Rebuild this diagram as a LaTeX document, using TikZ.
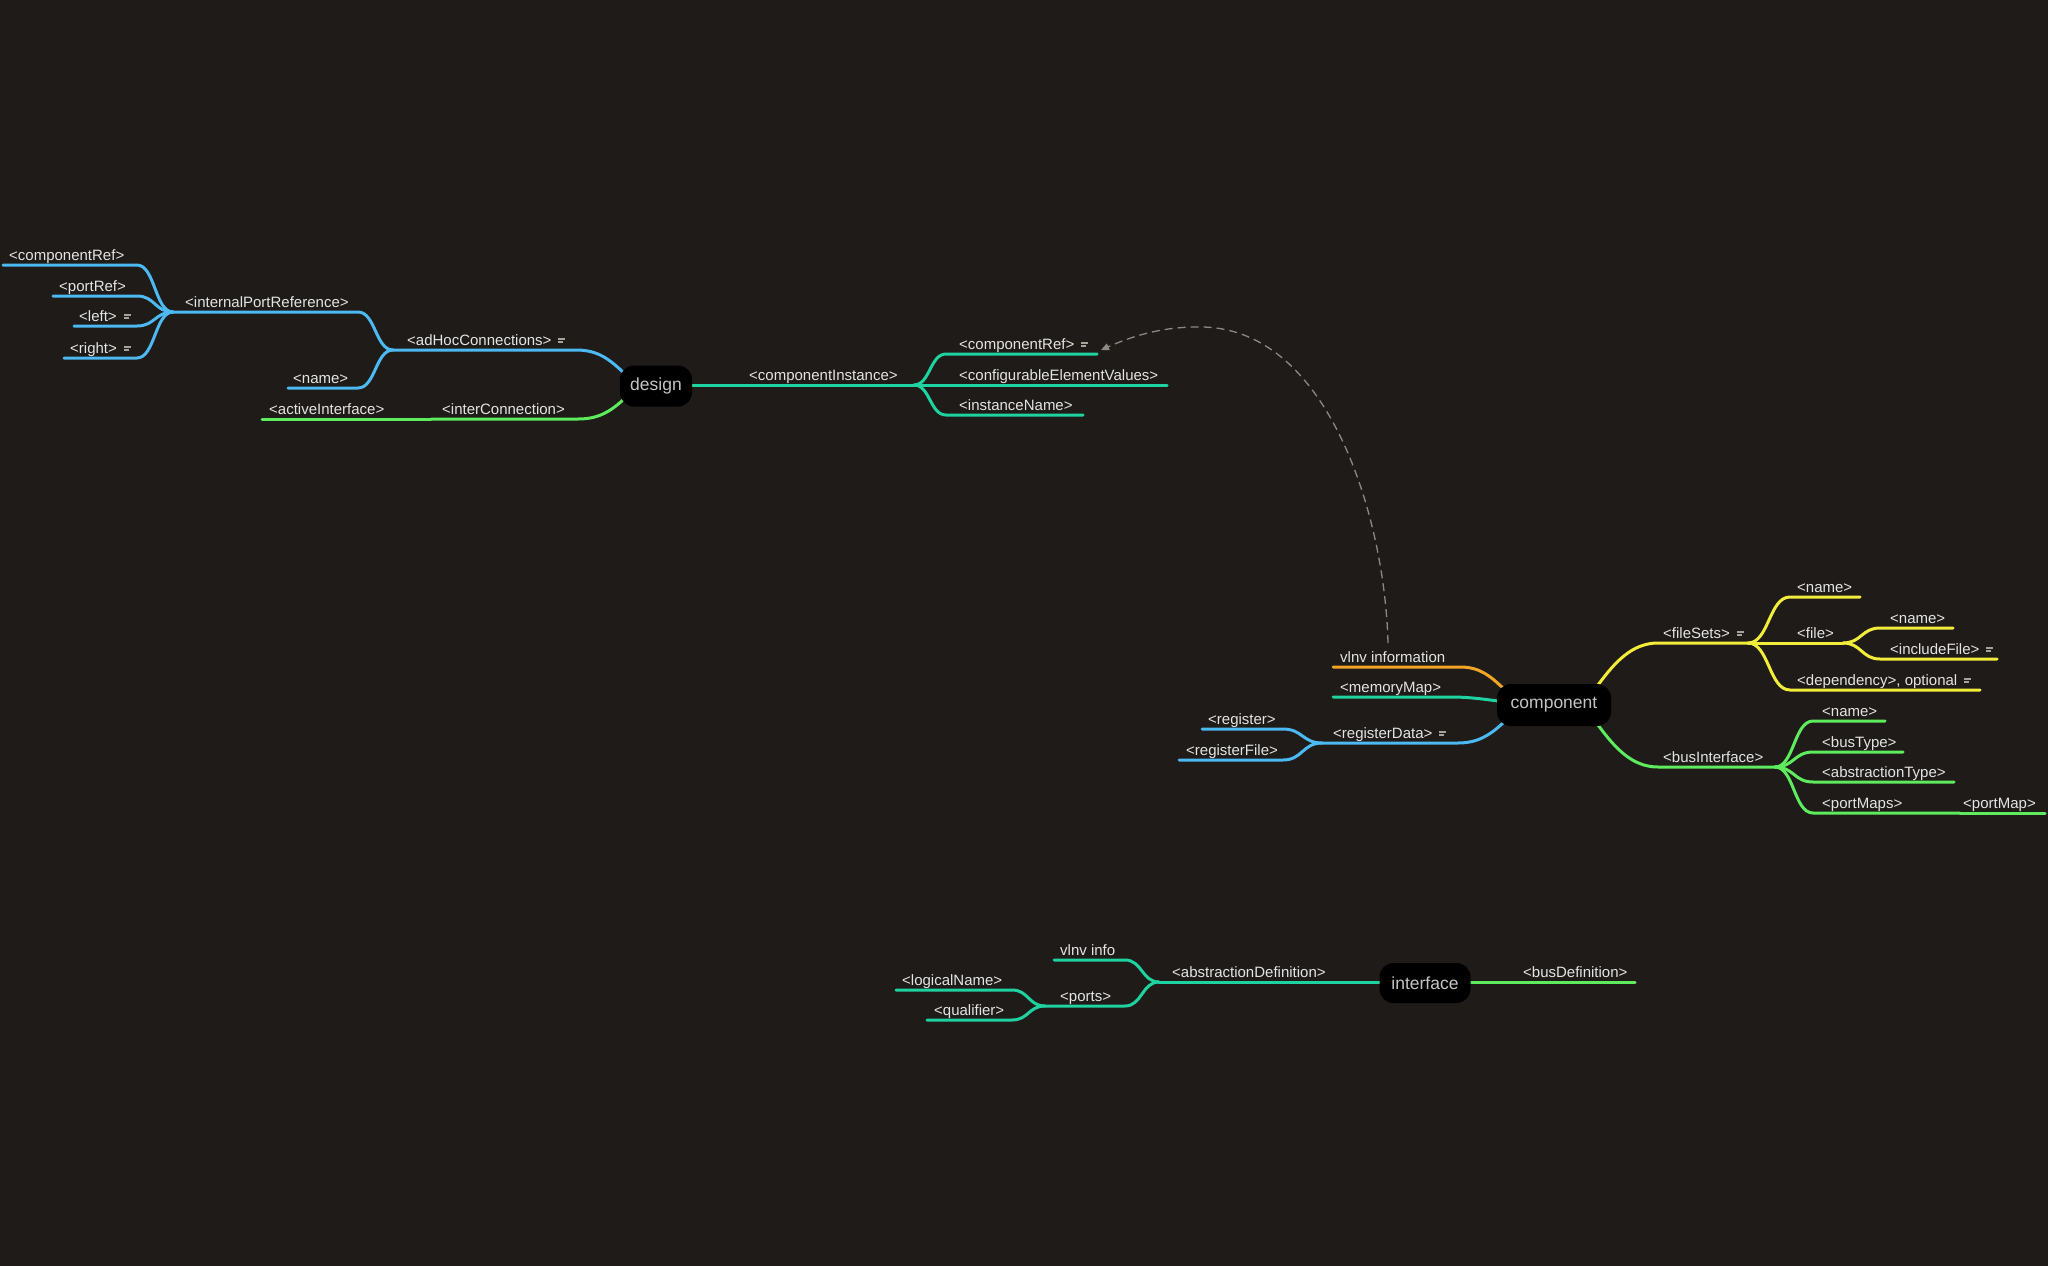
\documentclass[tikz,border=0pt]{standalone}
\usepackage{fontspec}
\setmainfont{Liberation Sans}
\usetikzlibrary{calc,arrows.meta}
\pgfdeclarelayer{back}
\pgfdeclarelayer{edges}
\pgfsetlayers{back,edges,main}
\definecolor{bgc}{HTML}{1E1B18}
\definecolor{cblue}{HTML}{4DB9F2}
\definecolor{cteal}{HTML}{1ED3A0}
\definecolor{cgreen}{HTML}{5EEB5E}
\definecolor{cyellow}{HTML}{F2EC3A}
\definecolor{corange}{HTML}{F2A427}
\definecolor{txtc}{HTML}{E4E4E4}
\definecolor{ntxt}{HTML}{C4C4C4}
\definecolor{notec}{HTML}{A8A29C}
\definecolor{dashc}{HTML}{8E8882}
\newcommand\noteic{\hspace{7pt}\textcolor{notec}{\raisebox{5pt}{\rlap{\rule{7pt}{2pt}}}\raisebox{2pt}{\rule{5pt}{1.6pt}}}}
\newcommand\branch[4]{\coordinate (tmpm) at ($(#2)!0.5!(#3)$);\draw[br,#1] (#2) .. controls (tmpm |- #2) and (tmpm |- #3) .. (#3) -- (#4);}
\begin{document}
\begin{tikzpicture}[x=1pt,y=-1pt,
  br/.style={line width=3pt,line cap=round},
  lbl/.style={text=txtc,font=\fontsize{15}{18}\selectfont,inner sep=0pt,anchor=base west},
  cnode/.style={fill=black,rounded corners=14pt,text=ntxt,font=\fontsize{17.5}{20}\selectfont,inner sep=0pt},
  dep/.style={draw=dashc,line width=1.3pt,dash pattern=on 8pt off 5pt,-{Triangle[length=8pt,width=7pt]}}]
\begin{pgfonlayer}{back}
\fill[bgc] (0,0) rectangle (2048,1266);
\end{pgfonlayer}
\useasboundingbox (0,0) rectangle (2048,1266);

% central nodes
\node[cnode,minimum width=72pt,minimum height=41pt] (design) at (656,386) {design};
\node[cnode,minimum width=114pt,minimum height=42pt] (component) at (1554,705) {component};
\node[cnode,minimum width=91pt,minimum height=40pt] (interface) at (1425,983) {interface};

% design labels
\node[lbl] (ci) at (749,380) {<componentInstance>};
\node[lbl] (cref) at (959,349) {<componentRef>\noteic};
\node[lbl] (cev) at (959,380) {<configurableElementValues>};
\node[lbl] (iname) at (959,410) {<instanceName>};
\node[lbl] (adhoc) at (407,345) {<adHocConnections>\noteic};
\node[lbl] (ipr) at (185,307) {<internalPortReference>};
\node[lbl] (dname) at (293,383) {<name>};
\node[lbl] (icref) at (9,260) {<componentRef>};
\node[lbl] (portref) at (59,291) {<portRef>};
\node[lbl] (leftl) at (79,321) {<left>\noteic};
\node[lbl] (rightl) at (70,353) {<right>\noteic};
\node[lbl] (interc) at (442,414) {<interConnection>};
\node[lbl] (activei) at (269,414) {<activeInterface>};

% component labels
\node[lbl] (vlnv) at (1340,662) {vlnv information};
\node[lbl] (mmap) at (1340,692) {<memoryMap>};
\node[lbl] (regdata) at (1333,738) {<registerData>\noteic};
\node[lbl] (reg) at (1208,724) {<register>};
\node[lbl] (regfile) at (1186,755) {<registerFile>};
\node[lbl] (filesets) at (1663,638) {<fileSets>\noteic};
\node[lbl] (fsname) at (1797,592) {<name>};
\node[lbl] (file) at (1797,638) {<file>};
\node[lbl] (fname) at (1890,623) {<name>};
\node[lbl] (incl) at (1890,654) {<includeFile>\noteic};
\node[lbl] (depn) at (1797,685) {<dependency>, optional\noteic};
\node[lbl] (busif) at (1663,762) {<busInterface>};
\node[lbl] (biname) at (1822,716) {<name>};
\node[lbl] (bustype) at (1822,747) {<busType>};
\node[lbl] (abstype) at (1822,777) {<abstractionType>};
\node[lbl] (portmaps) at (1822,808) {<portMaps>};
\node[lbl] (portmap) at (1963,808) {<portMap>};

% interface labels
\node[lbl] (busdef) at (1523,977) {<busDefinition>};
\node[lbl] (absdef) at (1172,977) {<abstractionDefinition>};
\node[lbl] (vinfo) at (1060,955) {vlnv info};
\node[lbl] (ports) at (1060,1001) {<ports>};
\node[lbl] (logname) at (902,985) {<logicalName>};
\node[lbl] (qual) at (934,1015) {<qualifier>};

\begin{pgfonlayer}{edges}
% ---- design, right side
\coordinate (ci-j) at (914,385);
\draw[br,cteal] (design.center |- ci-j) -- (ci-j);
\coordinate (cref-b) at (946,354); \coordinate (cref-e) at (1097,354);
\branch{cteal}{ci-j}{cref-b}{cref-e}
\coordinate (cev-e) at (1167,385);
\draw[br,cteal] (ci-j) -- (cev-e);
\coordinate (iname-b) at (946,415); \coordinate (iname-e) at (1083,415);
\branch{cteal}{ci-j}{iname-b}{iname-e}
% ---- design, left side
\coordinate (d-ah) at (624,373); \coordinate (ah-s) at (576,350); \coordinate (ah-j) at (393,350);
\draw[br,cblue] (d-ah) .. controls (609,359) and (598,350) .. (ah-s) -- (ah-j);
\coordinate (ipr-b) at (358,312); \coordinate (ipr-j) at (173,312);
\branch{cblue}{ah-j}{ipr-b}{ipr-j}
\coordinate (dname-b) at (358,388); \coordinate (dname-e) at (288,388);
\branch{cblue}{ah-j}{dname-b}{dname-e}
\coordinate (icref-b) at (137,265); \coordinate (icref-e) at (3,265);
\branch{cblue}{ipr-j}{icref-b}{icref-e}
\coordinate (portref-b) at (137,296); \coordinate (portref-e) at (53,296);
\branch{cblue}{ipr-j}{portref-b}{portref-e}
\coordinate (left-b) at (137,326); \coordinate (left-e) at (74,326);
\branch{cblue}{ipr-j}{left-b}{left-e}
\coordinate (right-b) at (137,358); \coordinate (right-e) at (64,358);
\branch{cblue}{ipr-j}{right-b}{right-e}
\coordinate (d-ic) at (624,399); \coordinate (ic-s) at (578,419); \coordinate (ic-j) at (431,419); \coordinate (ai-e) at (262,419);
\draw[br,cgreen] (d-ic) .. controls (610,412) and (598,419) .. (ic-s) -- (ic-j);
\draw[br,cgreen] (ic-j) -- (ai-e);
% ---- component, left side
\coordinate (c-v) at (1503,688); \coordinate (v-s) at (1460,667); \coordinate (v-e) at (1333,667);
\draw[br,corange] (c-v) .. controls (1490,676) and (1480,667) .. (v-s) -- (v-e);
\coordinate (c-m) at (1506,702); \coordinate (m-s) at (1450,697); \coordinate (m-e) at (1333,697);
\draw[br,cteal] (c-m) .. controls (1482,699) and (1470,697) .. (m-s) -- (m-e);
\coordinate (c-r) at (1503,723); \coordinate (r-s) at (1458,743); \coordinate (rd-j) at (1322,743);
\draw[br,cblue] (c-r) .. controls (1490,735) and (1478,743) .. (r-s) -- (rd-j);
\coordinate (reg-b) at (1283,729); \coordinate (reg-e) at (1202,729);
\branch{cblue}{rd-j}{reg-b}{reg-e}
\coordinate (regf-b) at (1283,760); \coordinate (regf-e) at (1179,760);
\branch{cblue}{rd-j}{regf-b}{regf-e}
% ---- component, right side
\coordinate (c-f) at (1598,685); \coordinate (fs-s) at (1658,643); \coordinate (fs-j) at (1748,643);
\draw[br,cyellow] (c-f) .. controls (1615,662) and (1632,643) .. (fs-s) -- (fs-j);
\coordinate (fsn-b) at (1790,597); \coordinate (fsn-e) at (1860,597);
\branch{cyellow}{fs-j}{fsn-b}{fsn-e}
\coordinate (file-j) at (1843,643);
\draw[br,cyellow] (fs-j) -- (file-j);
\coordinate (fn-b) at (1880,628); \coordinate (fn-e) at (1953,628);
\branch{cyellow}{file-j}{fn-b}{fn-e}
\coordinate (inc-b) at (1880,659); \coordinate (inc-e) at (1997,659);
\branch{cyellow}{file-j}{inc-b}{inc-e}
\coordinate (dep-b) at (1790,690); \coordinate (dep-e) at (1980,690);
\branch{cyellow}{fs-j}{dep-b}{dep-e}
\coordinate (c-b) at (1598,725); \coordinate (bi-s) at (1658,767); \coordinate (bi-j) at (1775,767);
\draw[br,cgreen] (c-b) .. controls (1615,748) and (1632,767) .. (bi-s) -- (bi-j);
\coordinate (bin-b) at (1813,721); \coordinate (bin-e) at (1885,721);
\branch{cgreen}{bi-j}{bin-b}{bin-e}
\coordinate (bt-b) at (1813,752); \coordinate (bt-e) at (1903,752);
\branch{cgreen}{bi-j}{bt-b}{bt-e}
\coordinate (at-b) at (1813,782); \coordinate (at-e) at (1954,782);
\branch{cgreen}{bi-j}{at-b}{at-e}
\coordinate (pms-b) at (1813,813); \coordinate (pm-j) at (1960,813); \coordinate (pm-e) at (2045,813);
\branch{cgreen}{bi-j}{pms-b}{pm-j}
\draw[br,cgreen] (pm-j) -- (pm-e);
% ---- interface
\coordinate (bd-e) at (1635,982);
\draw[br,cgreen] (interface.center |- bd-e) -- (bd-e);
\coordinate (ad-j) at (1159,982);
\draw[br,cteal] (interface.center |- ad-j) -- (ad-j);
\coordinate (vi-b) at (1125,960); \coordinate (vi-e) at (1054,960);
\branch{cteal}{ad-j}{vi-b}{vi-e}
\coordinate (po-b) at (1125,1006); \coordinate (po-j) at (1045,1006);
\branch{cteal}{ad-j}{po-b}{po-j}
\coordinate (ln-b) at (1012,990); \coordinate (ln-e) at (896,990);
\branch{cteal}{po-j}{ln-b}{ln-e}
\coordinate (q-b) at (1012,1020); \coordinate (q-e) at (927,1020);
\branch{cteal}{po-j}{q-b}{q-e}
% ---- dashed relation
\coordinate (dash-s) at (1388,643);
\coordinate (dash-t) at (1203,327);
\coordinate (dash-e) at (1101,350);
\draw[dep] (dash-s) .. controls (1385,520) and (1330,330) .. (dash-t) .. controls (1160,326) and (1128,338) .. (dash-e);
\end{pgfonlayer}
\end{tikzpicture}
\end{document}
